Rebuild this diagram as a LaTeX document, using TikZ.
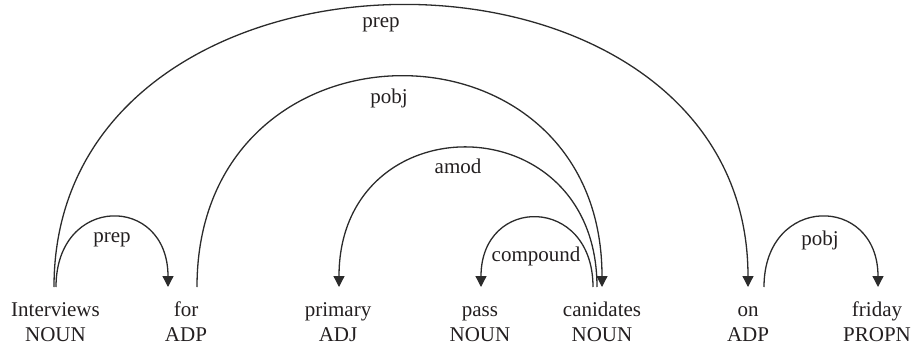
\documentclass[tikz,border=0pt]{standalone}
\usepackage{fontspec}
\setmainfont{Liberation Serif}
\usetikzlibrary{arrows.meta}
\definecolor{ink}{HTML}{231F20}
\definecolor{arcc}{HTML}{2B2B2B}
\tikzset{
  word/.style={anchor=base, inner sep=0pt, text=ink, font=\fontsize{21}{25}\selectfont},
  lbl/.style={anchor=base, inner sep=0pt, text=ink, font=\fontsize{21}{25}\selectfont},
  dep/.style={draw=arcc, line width=1.3pt, -{Triangle[width=11pt,length=11pt]}},
  depnoarrow/.style={draw=arcc, line width=1.3pt}
}
\begin{document}
\begin{tikzpicture}[x=1pt,y=1pt]
\useasboundingbox (0,0) rectangle (911,349);
% words
\node[word] (w1) at (55.5,33) {Interviews};
\node[word] (p1) at (55.5,8) {NOUN};
\node[word] (w2) at (186,33) {for};
\node[word] (p2) at (186,8) {ADP};
\node[word] (w3) at (338,33) {primary};
\node[word] (p3) at (338,8) {ADJ};
\node[word] (w4) at (480,33) {pass};
\node[word] (p4) at (480,8) {NOUN};
\node[word] (w5) at (602,33) {canidates};
\node[word] (p5) at (602,8) {NOUN};
\node[word] (w6) at (748,33) {on};
\node[word] (p6) at (748,8) {ADP};
\node[word] (w7) at (877,33) {friday};
\node[word] (p7) at (877,8) {PROPN};
% arc end points
\coordinate (a1) at (54,62);
\coordinate (a1b) at (56,62);
\coordinate (a2) at (168,62);
\coordinate (a2b) at (197,62);
\coordinate (a3) at (339,62);
\coordinate (a4) at (481,62);
\coordinate (a5c) at (593,62);
\coordinate (a5a) at (597,62);
\coordinate (a5) at (602,62);
\coordinate (a6) at (748,62);
\coordinate (a6b) at (764,62);
\coordinate (a7) at (878,62);
% arcs
\draw[dep] (a1) .. controls +(0,375) and +(0,375) .. (a6);
\draw[dep] (a1b) .. controls +(0,93) and +(0,93) .. (a2);
\draw[dep] (a2b) .. controls +(0,280) and +(0,280) .. (a5);
\draw[dep] (a5a) .. controls +(0,185) and +(0,185) .. (a3);
\draw[dep] (a5c) .. controls +(0,92) and +(0,92) .. (a4);
\draw[dep] (a6b) .. controls +(0,93) and +(0,93) .. (a7);
% labels
\node[lbl] (l1) at (381,321) {prep};
\node[lbl] (l2) at (112,107) {prep};
\node[lbl] (l3) at (389,246) {pobj};
\node[lbl] (l4) at (458,176) {amod};
\node[lbl] (l5) at (536,88) {compound};
\node[lbl] (l6) at (820,104) {pobj};
\end{tikzpicture}
\end{document}
